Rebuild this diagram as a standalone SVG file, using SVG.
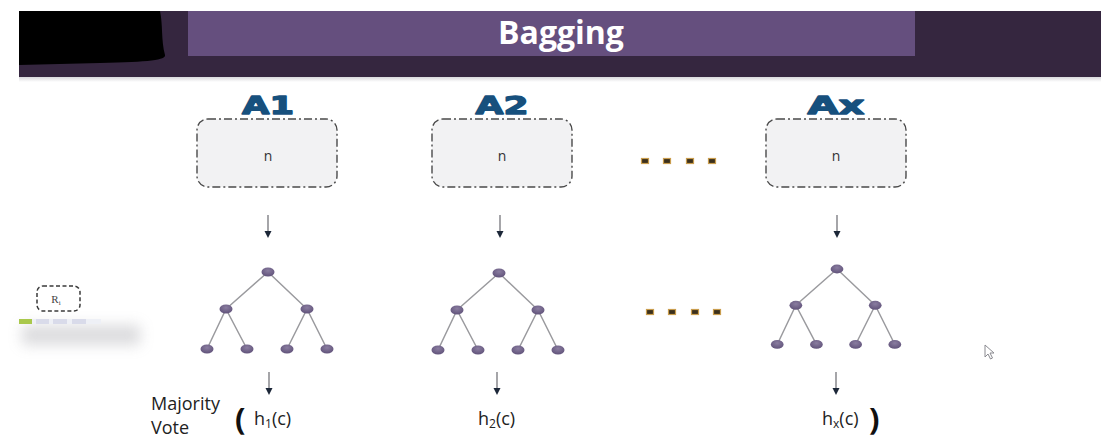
<svg xmlns="http://www.w3.org/2000/svg" width="1101" height="439" viewBox="0 0 1101 439">
  <defs>
    <style>
      .title { font-family: "Open Sans", "DejaVu Sans", sans-serif; font-weight: bold; font-size: 32px; fill: #ffffff; }
      .head { font-family: "DejaVu Sans", sans-serif; font-weight: bold; font-size: 24px; fill: #17507d; stroke: #17507d; stroke-width: 1.3; stroke-linejoin: round; }
      .sample { fill: #f2f2f3; stroke: #4a4a4a; stroke-width: 1.4; stroke-dasharray: 8 3 2 3; }
      .n { font-family: "Open Sans", sans-serif; font-size: 14px; fill: #333333; }
      .edge { stroke: #9a9a9e; stroke-width: 1.5; fill: none; }
      .node { fill: url(#nodeFill); }
      .shaft { stroke: #6a6a70; stroke-width: 1.2; }
      .tip { fill: #1c2738; }
      .lbl { font-family: "Open Sans", sans-serif; font-size: 18px; fill: #222222; }
      .sub { font-size: 12px; }
      .paren { font-family: "Open Sans", sans-serif; font-weight: bold; font-size: 31px; fill: #111111; }
      .dot { fill: #3b301c; stroke: #c99d4e; stroke-width: 1.2; }
    </style>
    <radialGradient id="nodeFill" cx="0.5" cy="0.35" r="0.7">
      <stop offset="0" stop-color="#8a7da0"/>
      <stop offset="1" stop-color="#5d4f77"/>
    </radialGradient>
    <linearGradient id="barShade" x1="0" y1="0" x2="0" y2="1">
      <stop offset="0" stop-color="#d8d8dc"/>
      <stop offset="1" stop-color="#ffffff"/>
    </linearGradient>
    <filter id="soft" x="-30%" y="-100%" width="160%" height="300%">
      <feGaussianBlur stdDeviation="7"/>
    </filter>
    <!-- one decision tree, origin at its root node -->
    <g id="tree">
      <path class="edge" d="M0 0 L-42 37 M0 0 L39 37 M-42 37 L-61 77 M-42 37 L-21 77 M39 37 L19 77 M39 37 L59 77"/>
      <ellipse class="node" cx="0" cy="0" rx="6.5" ry="4.5"/>
      <ellipse class="node" cx="-42" cy="37" rx="6.5" ry="4.5"/>
      <ellipse class="node" cx="39" cy="37" rx="6.5" ry="4.5"/>
      <ellipse class="node" cx="-61" cy="77" rx="6.5" ry="4.5"/>
      <ellipse class="node" cx="-21" cy="77" rx="6.5" ry="4.5"/>
      <ellipse class="node" cx="19" cy="77" rx="6.5" ry="4.5"/>
      <ellipse class="node" cx="59" cy="77" rx="6.5" ry="4.5"/>
    </g>
    <!-- short downward arrow, origin at the tail -->
    <g id="down">
      <line class="shaft" x1="0" y1="0" x2="0" y2="17"/>
      <polygon class="tip" points="-3.5,16 3.5,16 0,23"/>
    </g>
    <!-- row of four ellipsis squares -->
    <g id="dots">
      <rect class="dot" x="-3.5" y="-2.5" width="7" height="5"/>
      <rect class="dot" x="18.5" y="-2.5" width="7" height="5"/>
      <rect class="dot" x="41.5" y="-2.5" width="7" height="5"/>
      <rect class="dot" x="63.5" y="-2.5" width="7" height="5"/>
    </g>
  </defs>

  <rect width="1101" height="439" fill="#ffffff"/>

  <!-- title banner -->
  <g id="banner">
    <rect x="19" y="77" width="1082" height="5" fill="url(#barShade)"/>
    <rect x="19" y="11" width="1082" height="66" fill="#35263f"/>
    <path d="M19 11 L160 11 C163 25 161 40 165 55 C166 60 150 62 100 63 L19 65 Z" fill="#000000"/>
    <rect x="188" y="11" width="727" height="45" fill="#654f7e"/>
    <text class="title" x="561" y="44" text-anchor="middle">Bagging</text>
  </g>

  <!-- bootstrap sample boxes -->
  <g id="sample-a1">
    <text class="head" x="268" y="114" text-anchor="middle" textLength="52" lengthAdjust="spacingAndGlyphs">A1</text>
    <rect class="sample" x="197" y="119" width="140" height="68" rx="11"/>
    <text class="n" x="268" y="161" text-anchor="middle">n</text>
  </g>
  <g id="sample-a2">
    <text class="head" x="502" y="114" text-anchor="middle" textLength="53" lengthAdjust="spacingAndGlyphs">A2</text>
    <rect class="sample" x="432" y="119" width="140" height="68" rx="11"/>
    <text class="n" x="502" y="161" text-anchor="middle">n</text>
  </g>
  <g id="sample-ax">
    <text class="head" x="836" y="114" text-anchor="middle" textLength="57" lengthAdjust="spacingAndGlyphs">Ax</text>
    <rect class="sample" x="766" y="119" width="140" height="68" rx="11"/>
    <text class="n" x="836" y="161" text-anchor="middle">n</text>
  </g>

  <!-- trees grown on each sample -->
  <g id="tree-a1"><use href="#tree" transform="translate(268 272)"/></g>
  <g id="tree-a2"><use href="#tree" transform="translate(499 273)"/></g>
  <g id="tree-ax"><use href="#tree" transform="translate(837 269) scale(0.98 0.98)"/></g>

  <!-- ellipses between columns -->
  <g id="more-samples"><use href="#dots" transform="translate(645 161)"/></g>
  <g id="more-trees"><use href="#dots" transform="translate(650 312)"/></g>

  <!-- connectors -->
  <g id="connectors">
    <use href="#down" transform="translate(268 215)"/>
    <use href="#down" transform="translate(500 215)"/>
    <use href="#down" transform="translate(837 215)"/>
    <use href="#down" transform="translate(269 372)"/>
    <use href="#down" transform="translate(497 372)"/>
    <use href="#down" transform="translate(836 372)"/>
  </g>

  <!-- aggregation by majority vote -->
  <g id="vote">
    <text class="lbl" x="151" y="410" font-size="15">Majority</text>
    <text class="lbl" x="151" y="434" font-size="15">Vote</text>
    <text class="paren" x="235" y="430">(</text>
    <text class="lbl" x="254" y="425">h<tspan class="sub" dy="3">1</tspan><tspan dy="-3">(c)</tspan></text>
    <text class="lbl" x="478" y="425">h<tspan class="sub" dy="3">2</tspan><tspan dy="-3">(c)</tspan></text>
    <text class="lbl" x="822" y="425">h<tspan class="sub" dy="3">x</tspan><tspan dy="-3">(c)</tspan></text>
    <text class="paren" x="869" y="430">)</text>
  </g>

  <!-- small record card at the left edge -->
  <g id="record">
    <rect x="22" y="325" width="118" height="20" fill="#9a9aa0" opacity="0.35" filter="url(#soft)"/>
    <rect x="19" y="319" width="82" height="5" fill="#eef0f6"/>
    <rect x="19" y="319" width="13" height="5" fill="#a9c84c"/>
    <rect x="36" y="319" width="13" height="5" fill="#d9dbea"/>
    <rect x="53" y="319" width="14" height="5" fill="#d9dbea"/>
    <rect x="72" y="319" width="14" height="5" fill="#d9dbea"/>
    <rect x="37" y="286" width="43" height="25" rx="6" fill="#ffffff" stroke="#3a3a3a" stroke-width="1.5" stroke-dasharray="4 2.5"/>
    <text x="56" y="303" font-family="Liberation Serif, serif" font-size="11" fill="#444444" text-anchor="middle">R<tspan font-size="7" dy="2">i</tspan></text>
  </g>

  <!-- mouse pointer -->
  <g id="pointer">
    <path d="M985 345 L985 357 L988 354 L990.5 359 L992.5 358 L990 353 L994 353 Z" fill="#ffffff" stroke="#8a8a90" stroke-width="1"/>
  </g>
</svg>
